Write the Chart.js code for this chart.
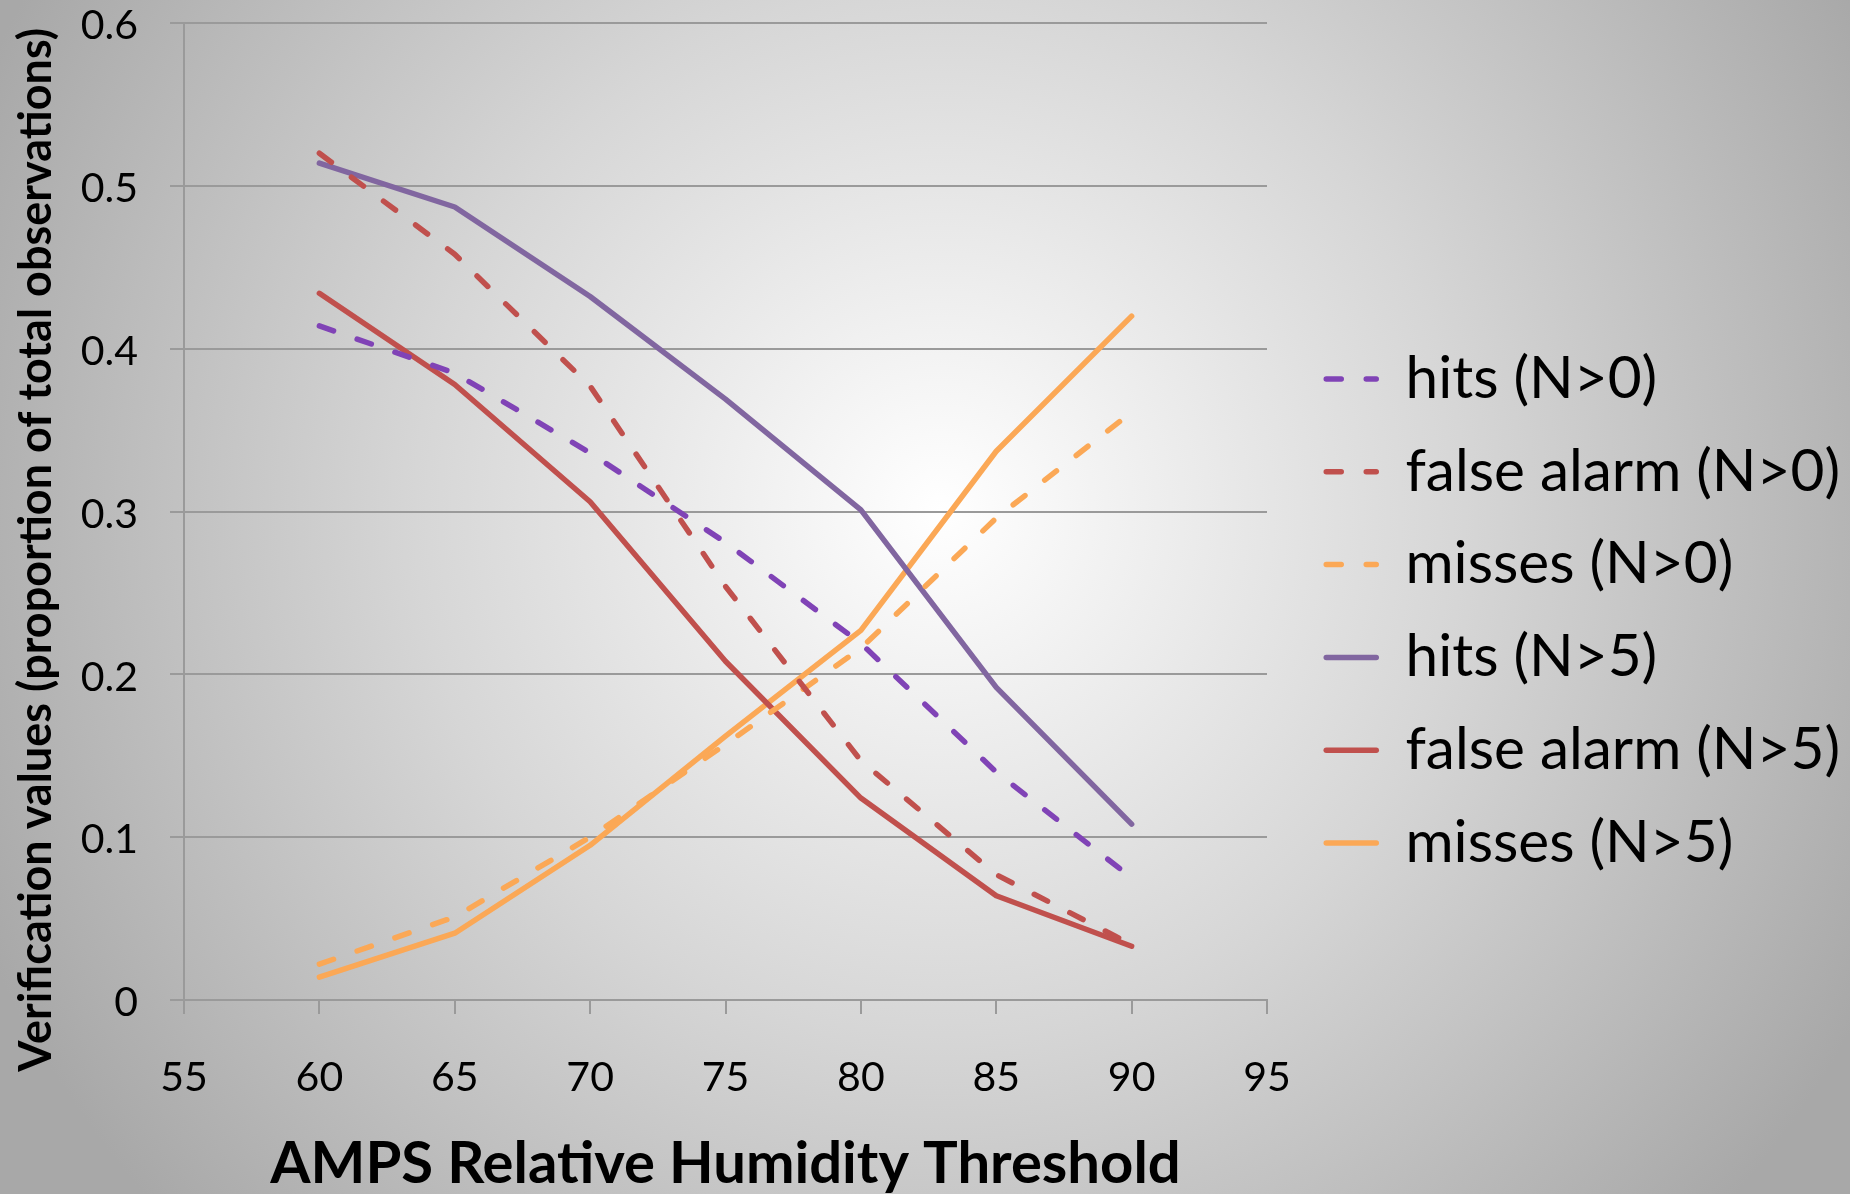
<!DOCTYPE html>
<html>
<head>
<meta charset="utf-8">
<script src="https://cdn.jsdelivr.net/npm/chart.js@4.4.1/dist/chart.umd.min.js"></script>
<style>
  html, body { margin: 0; padding: 0; width: 1850px; height: 1194px; overflow: hidden; }
  body { background: radial-gradient(circle 1050px at 940px 510px, #ffffff 0%, #d6d6d6 50%, #a8a8a8 100%); }
  #wrap { position: absolute; left: 0; top: 0; width: 1850px; height: 1194px; }
</style>
</head>
<body>
<div id="wrap"><canvas id="c" width="1850" height="1194"></canvas></div>
<script>
// ---- data ----
const thresholds = [60, 65, 70, 75, 80, 85, 90];
const hitsN0  = [0.414, 0.385, 0.336, 0.281, 0.219, 0.140, 0.075];
const falseN0 = [0.520, 0.458, 0.377, 0.254, 0.147, 0.077, 0.034];
const missN0  = [0.022, 0.051, 0.100, 0.157, 0.216, 0.296, 0.361];
const hitsN5  = [0.514, 0.487, 0.432, 0.369, 0.301, 0.192, 0.108];
const falseN5 = [0.434, 0.378, 0.306, 0.208, 0.124, 0.064, 0.033];
const missN5  = [0.014, 0.041, 0.095, 0.162, 0.227, 0.337, 0.420];
const seriesLabels = ['hits (N>0)', 'false alarm (N>0)', 'misses (N>0)', 'hits (N>5)', 'false alarm (N>5)', 'misses (N>5)'];
const yTickLabels = ['0', '0.1', '0.2', '0.3', '0.4', '0.5', '0.6'];
const xTitle = 'AMPS Relative Humidity Threshold';
const yTitle = 'Verification values (proportion of total observations)';

// ---- styles ----
const grey = '#9a9a9a';
const purpleDash = '#8043b6';
const purpleSolid = '#8166a0';
const red = '#c0504d';
const orange = '#fba856';

// ---- legend geometry (computed so plot area ends at x = 1267) ----
const W = 1850;
const plotRight = 1267;
const legendFontSize = 58.5;
const legendPad = 34.3;
const legendLineW = 50;
const mctx = document.createElement('canvas').getContext('2d');
mctx.font = legendFontSize + 'px Lato';
const maxTextW = Math.max(...seriesLabels.map(s => mctx.measureText(s).width));
const legendW = legendPad + legendLineW + legendFontSize / 2 + maxTextW + 10;
const spacerW = Math.max(0, W - plotRight - legendW);

function ds(label, vals, color, dashed) {
  return {
    label: label,
    data: thresholds.map((t, i) => ({ x: t, y: vals[i] })),
    borderColor: color,
    backgroundColor: color,
    borderWidth: 5.5,
    borderDash: dashed ? [15, 25] : [],
    borderCapStyle: 'round',
    borderJoinStyle: 'round',
    pointRadius: 0,
    pointHoverRadius: 0,
    pointStyle: 'line',
    fill: false,
    tension: 0,
    xAxisID: 'x',
    yAxisID: 'y'
  };
}

const datasets = [
  ds(seriesLabels[0], hitsN0, purpleDash, true),
  ds(seriesLabels[1], falseN0, red, true),
  ds(seriesLabels[2], missN0, orange, true),
  ds(seriesLabels[3], hitsN5, purpleSolid, false),
  ds(seriesLabels[4], falseN5, red, false),
  ds(seriesLabels[5], missN5, orange, false)
];

new Chart(document.getElementById('c'), {
  type: 'line',
  data: { datasets: datasets },
  options: {
    responsive: false,
    animation: false,
    layout: { padding: { top: 23, left: 0, right: 0, bottom: -5 } },
    plugins: {
      tooltip: { enabled: false },
      legend: {
        position: 'right',
        align: 'center',
        maxWidth: 900,
        labels: {
          usePointStyle: true,
          pointStyleWidth: legendLineW,
          padding: legendPad,
          color: '#000',
          font: { family: 'Lato', size: legendFontSize },
          generateLabels: (chart) => {
            const items = Chart.defaults.plugins.legend.labels.generateLabels(chart);
            items.forEach(it => {
              const d = chart.data.datasets[it.datasetIndex];
              it.lineDash = d.borderDash;
              it.lineWidth = d.borderWidth;
              it.strokeStyle = d.borderColor;
              it.lineCap = 'round';
              it.pointStyle = 'line';
            });
            return items;
          }
        }
      }
    },
    scales: {
      x: {
        type: 'linear',
        position: 'bottom',
        min: 55,
        max: 95,
        ticks: { stepSize: 5, color: '#000', font: { family: 'Lato', size: 41 }, padding: 39, maxRotation: 0, autoSkip: false },
        grid: { drawOnChartArea: false, drawTicks: true, tickLength: 14, color: grey, lineWidth: 2 },
        border: { display: true, color: grey, width: 2 },
        title: { display: true, text: xTitle, color: '#000', font: { family: 'Lato', size: 58, weight: 'bold', lineHeight: 1 }, padding: { top: 0, bottom: 6 } },
        afterFit: (s) => { s.height = 199; }
      },
      y: {
        type: 'linear',
        position: 'left',
        min: 0,
        max: 0.6,
        ticks: {
          stepSize: 0.1, color: '#000', font: { family: 'Lato', size: 41, lineHeight: 1.15 }, padding: 32, labelOffset: 3,
          callback: (v) => yTickLabels[Math.round(v * 10)]
        },
        grid: { drawTicks: true, tickLength: 14, color: grey, lineWidth: 2 },
        border: { display: true, color: grey, width: 2 },
        title: { display: true, text: yTitle + '       ', color: '#000', font: { family: 'Lato', size: 45, weight: 'bold', lineHeight: 1 }, padding: { top: 14, bottom: 0 } },
        afterFit: (s) => { s.width = 184; s.paddingTop = 23; s.paddingBottom = 23; }
      },
      spacer: {
        type: 'linear',
        position: 'right',
        display: true,
        grid: { display: false },
        ticks: { display: false },
        border: { display: false },
        afterFit: (s) => { s.width = spacerW; }
      }
    }
  }
});
</script>
</body>
</html>
